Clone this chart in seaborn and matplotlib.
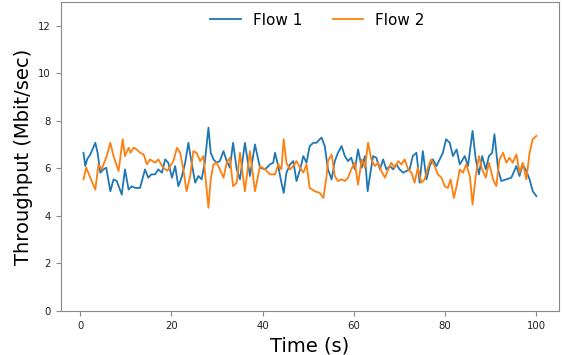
import pandas as pd
import matplotlib
matplotlib.use("Agg")
import matplotlib.pyplot as plt
import seaborn as sns

# -----------------------------------------------------------------------------
# Data
# -----------------------------------------------------------------------------
time_flow1 = [0.7, 1.1, 1.5, 2.2, 3.3, 3.8, 4.4, 5.1, 5.7, 6.6, 7.3, 8.0, 9.1, 9.8,
              10.6, 11.3, 12.0, 13.1, 14.2, 14.9, 15.6, 16.4, 17.1, 17.9, 18.6, 19.3,
              20.1, 20.8, 21.5, 22.2, 23.0, 23.7, 24.4, 25.2, 25.9, 26.6, 27.3, 28.1,
              28.6, 29.2, 29.9, 30.6, 31.4, 32.1, 32.8, 33.5, 34.3, 35.0, 36.1, 37.2,
              38.3, 39.4, 40.5, 41.6, 42.3, 42.7, 43.4, 44.1, 44.6, 45.2, 46.0, 46.7,
              47.4, 48.2, 48.9, 49.6, 50.3, 51.1, 51.8, 52.5, 52.9, 53.6, 54.3, 55.1,
              55.8, 56.5, 57.3, 58.0, 58.7, 59.4, 60.2, 60.9, 61.7, 62.4, 63.0, 63.5,
              64.2, 64.9, 65.7, 66.4, 67.1, 67.9, 68.6, 69.3, 70.0, 70.8, 71.5, 72.2,
              72.9, 73.7, 74.4, 75.1, 75.9, 76.6, 77.3, 78.1, 78.8, 79.5, 80.2, 81.0,
              81.7, 82.5, 83.2, 84.3, 85.0, 86.0, 86.7, 87.4, 88.1, 88.9, 89.6, 90.3,
              90.8, 91.6, 92.3, 93.4, 94.5, 95.6, 96.3, 97.0, 97.8, 98.5, 99.2, 100.0]
flow1 = [6.66, 6.10, 6.38, 6.59, 7.08, 6.66, 5.82, 5.96, 6.03, 5.04, 5.54, 5.47, 4.90, 5.96,
         5.11, 5.25, 5.18, 5.18, 5.96, 5.61, 5.75, 5.75, 5.96, 5.82, 6.38, 6.24,
         5.61, 6.10, 5.25, 5.61, 6.24, 7.08, 6.24, 5.40, 5.68, 5.54, 6.24, 7.72,
         6.66, 6.38, 6.24, 6.31, 6.73, 6.31, 6.03, 7.08, 5.96, 5.54, 7.08, 5.68,
         7.01, 6.03, 5.96, 6.17, 6.24, 6.66, 6.10, 5.40, 4.97, 5.82, 6.17, 6.31,
         5.47, 5.96, 6.52, 6.24, 6.94, 7.08, 7.08, 7.23, 7.30, 6.94, 5.96, 5.54,
         6.31, 6.66, 6.94, 6.52, 6.31, 6.45, 5.96, 6.80, 6.03, 6.52, 5.04, 5.68,
         6.52, 6.45, 5.96, 6.38, 5.96, 6.10, 5.96, 6.17, 5.96, 5.82, 5.89, 5.96,
         6.52, 6.66, 5.40, 6.73, 5.54, 6.10, 6.38, 6.10, 6.38, 6.66, 7.23, 7.08,
         6.52, 6.80, 6.17, 6.52, 6.10, 7.58, 6.38, 5.75, 6.52, 5.96, 6.52, 6.66,
         7.44, 5.96, 5.47, 5.54, 5.61, 6.10, 5.68, 6.17, 5.89, 5.54, 5.04, 4.83]

time_flow2 = [0.7, 1.3, 2.2, 3.3, 4.0, 4.7, 5.1, 5.8, 6.6, 7.3, 8.4, 9.3, 9.8, 10.6,
              11.0, 11.7, 12.4, 13.1, 13.9, 14.6, 15.3, 16.4, 17.1, 18.2, 19.1, 20.4,
              21.2, 21.9, 22.6, 23.3, 24.1, 24.8, 25.5, 26.3, 27.0, 27.7, 28.1, 28.6,
              29.2, 29.9, 30.6, 31.4, 32.1, 32.8, 33.5, 34.3, 35.0, 36.1, 37.2, 38.3,
              39.4, 40.5, 41.6, 42.7, 43.4, 44.1, 44.6, 45.2, 46.0, 46.7, 47.4, 48.2,
              48.9, 49.6, 50.3, 51.4, 52.5, 53.3, 54.0, 54.3, 55.1, 55.8, 56.5, 57.3,
              58.0, 58.7, 59.4, 60.2, 60.9, 61.7, 62.4, 63.1, 63.8, 64.6, 65.3, 66.0,
              66.8, 67.5, 68.2, 68.9, 69.7, 70.4, 71.1, 71.9, 72.6, 73.3, 74.0, 74.8,
              75.5, 76.2, 76.9, 77.7, 78.4, 79.2, 79.9, 80.6, 81.2, 81.9, 82.5, 83.2,
              83.9, 84.6, 85.4, 86.0, 86.7, 87.4, 88.1, 88.9, 89.6, 90.5, 91.2, 91.9,
              92.7, 93.4, 94.1, 94.8, 95.6, 96.3, 97.0, 97.8, 98.5, 99.2, 100.0]
flow2 = [5.54, 6.03, 5.61, 5.11, 6.17, 5.96, 6.17, 6.52, 7.08, 6.52, 5.89, 7.23, 6.52, 6.87,
         6.66, 6.87, 6.80, 6.66, 6.59, 6.17, 6.38, 6.24, 6.38, 6.03, 5.90, 6.31,
         6.87, 6.66, 5.96, 5.04, 5.68, 6.73, 6.66, 6.31, 6.52, 5.11, 4.34, 5.54,
         6.17, 6.24, 5.96, 5.61, 6.24, 6.45, 5.25, 5.40, 6.66, 5.04, 6.73, 5.04,
         6.10, 5.96, 5.75, 5.75, 6.17, 5.96, 7.23, 6.24, 5.96, 6.10, 6.31, 6.03,
         5.82, 6.17, 5.18, 5.04, 4.97, 4.76, 5.68, 6.31, 6.59, 5.68, 5.47, 5.54,
         5.47, 5.61, 5.96, 6.24, 5.32, 6.38, 6.03, 7.08, 6.38, 6.10, 6.24, 5.89,
         5.61, 5.96, 6.24, 6.03, 6.31, 6.17, 6.38, 5.96, 5.82, 5.40, 6.03, 5.40,
         5.54, 6.03, 6.38, 6.10, 5.75, 5.61, 5.25, 5.18, 5.54, 4.76, 5.25, 5.96,
         5.82, 6.17, 5.68, 4.48, 5.68, 6.52, 5.96, 5.61, 6.24, 5.54, 5.25, 6.38,
         6.66, 6.24, 6.45, 6.24, 6.59, 5.82, 6.24, 5.54, 6.66, 7.23, 7.37]

df = pd.concat([
    pd.DataFrame({'time': time_flow1, 'throughput': flow1, 'flow': 'Flow 1'}),
    pd.DataFrame({'time': time_flow2, 'throughput': flow2, 'flow': 'Flow 2'}),
])

# -----------------------------------------------------------------------------
# Plot
# -----------------------------------------------------------------------------
plt.rcParams['font.family'] = 'DejaVu Sans'
fig, ax = plt.subplots(figsize=(5.63, 3.55), dpi=100)
fig.subplots_adjust(left=0.108, right=0.993, bottom=0.124, top=0.994)

sns.lineplot(data=df, x='time', y='throughput', hue='flow',
             palette=['#1f77b4', '#ff7f0e'], linewidth=1.3, ax=ax)

ax.set_ylim(0, 13)
ax.set_yticks([0, 2, 4, 6, 8, 10, 12])
ax.set_xticks([0, 20, 40, 60, 80, 100])
ax.tick_params(labelsize=7.3, colors='#222222')
ax.tick_params(color='#888888')
ax.set_xlabel('Time (s)', fontsize=14)
ax.set_ylabel('Throughput (Mbit/sec)', fontsize=14)
for s in ax.spines.values():
    s.set_color('#888888')

ax.legend(loc='upper center', bbox_to_anchor=(0.515, 1.01), ncol=2,
          frameon=False, fontsize=11)

plt.savefig('out.png', dpi=100)
